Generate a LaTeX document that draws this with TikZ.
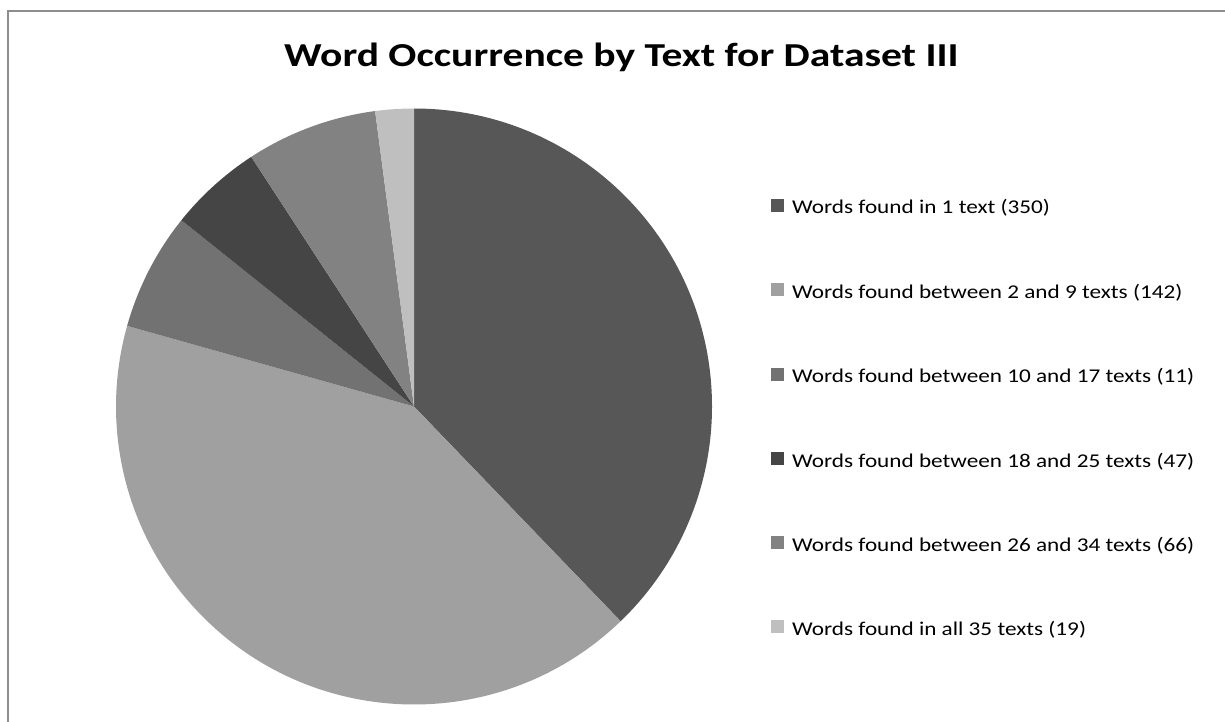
\documentclass[tikz,border=0pt]{standalone}
\usepackage{fontspec}
\setmainfont{Carlito}
\newfontfamily\legfont{Carlito}[FakeStretch=1.19]
\newfontfamily\titlefont{Carlito}[FakeStretch=1.24]
\definecolor{cA}{HTML}{575757}
\definecolor{cB}{HTML}{A0A0A0}
\definecolor{cC}{HTML}{727272}
\definecolor{cD}{HTML}{454545}
\definecolor{cE}{HTML}{828282}
\definecolor{cF}{HTML}{BFBFBF}
\definecolor{frameg}{HTML}{8E8E8E}
\tikzset{
  legsq/.style={minimum size=13pt, inner sep=0pt, outer sep=0pt, anchor=center},
  legtxt/.style={anchor=base west, inner sep=0pt, font=\legfont\fontsize{19.5}{22}\selectfont, text=black},
  charttitle/.style={anchor=base, inner sep=0pt, font=\titlefont\fontsize{33.5}{38}\selectfont\bfseries, text=black}
}
\begin{document}
\begin{tikzpicture}[x=1pt,y=1pt]
\useasboundingbox (0,0) rectangle (1225,-722);
\fill[white] (0,0) rectangle (1225,-722);
% frame (only left and top edges visible)
\draw[frameg, line width=2pt] (8,-722) -- (8,-11) -- (1225,-11);
% title
\node[charttitle] (title) at (621.5,-66.5) {Word Occurrence by Text for Dataset III};
% pie
\coordinate (c) at (414,-406.5);
\def\R{298}
\fill[cA] (c) -- ++(90:\R) arc[start angle=90, end angle=-46.1, radius=\R] -- cycle;
\fill[cB] (c) -- ++(-46.1:\R) arc[start angle=-46.1, end angle=-195.7, radius=\R] -- cycle;
\fill[cC] (c) -- ++(164.3:\R) arc[start angle=164.3, end angle=141.3, radius=\R] -- cycle;
\fill[cD] (c) -- ++(141.3:\R) arc[start angle=141.3, end angle=123.1, radius=\R] -- cycle;
\fill[cE] (c) -- ++(123.1:\R) arc[start angle=123.1, end angle=97.5, radius=\R] -- cycle;
\fill[cF] (c) -- ++(97.5:\R) arc[start angle=97.5, end angle=90, radius=\R] -- cycle;
% legend
\node[legsq, fill=cA] (s1) at (777.5,-205) {};
\node[legsq, fill=cB] (s2) at (777.5,-289.5) {};
\node[legsq, fill=cC] (s3) at (777.5,-374) {};
\node[legsq, fill=cD] (s4) at (777.5,-458.5) {};
\node[legsq, fill=cE] (s5) at (777.5,-542.5) {};
\node[legsq, fill=cF] (s6) at (777.5,-626.5) {};
\node[legtxt] (t1) at (792,-213.5) {Words found in 1 text (350)};
\node[legtxt] (t2) at (792,-298) {Words found between 2 and 9 texts (142)};
\node[legtxt] (t3) at (792,-382.5) {Words found between 10 and 17 texts (11)};
\node[legtxt] (t4) at (792,-467) {Words found between 18 and 25 texts (47)};
\node[legtxt] (t5) at (792,-551) {Words found between 26 and 34 texts (66)};
\node[legtxt] (t6) at (792,-635) {Words found in all 35 texts (19)};
\end{tikzpicture}
\end{document}
